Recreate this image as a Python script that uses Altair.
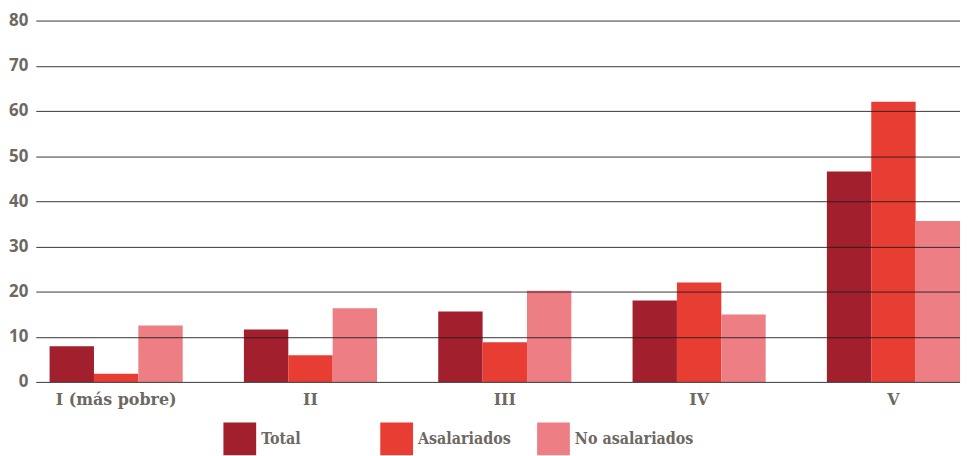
import altair as alt
import pandas as pd

categories = ["I (más pobre)", "II", "III", "IV", "V"]
series = ["Total", "Asalariados", "No asalariados"]
total = [7.9, 11.6, 15.6, 18.0, 46.6]
asalariados = [1.8, 5.9, 8.8, 22.0, 62.0]
no_asalariados = [12.5, 16.3, 20.2, 14.9, 35.6]
colors = ["#a21f2d", "#e83d33", "#ec7e84"]

rows = []
for name, vals in zip(series, [total, asalariados, no_asalariados]):
    for c, v in zip(categories, vals):
        rows.append({"quintil": c, "serie": name, "valor": v})
df = pd.DataFrame(rows)

label_color = "#6d6862"
serif_c = "DejaVu Serif Condensed, DejaVu Serif"

chart = alt.Chart(df).mark_bar().encode(
    x=alt.X("quintil:N", sort=categories,
            scale=alt.Scale(paddingInner=0.315, paddingOuter=0.0355, align=1),
            axis=alt.Axis(title=None, labelAngle=0, labelFont="DejaVu Serif", labelFontWeight="bold",
                          labelFontSize=16, labelColor=label_color, labelPadding=10,
                          ticks=False, domain=False, grid=False)),
    xOffset=alt.XOffset("serie:N", sort=series, scale=alt.Scale(paddingInner=0, paddingOuter=0)),
    y=alt.Y("valor:Q", scale=alt.Scale(domain=[0, 80]),
            axis=alt.Axis(title=None, values=[0, 10, 20, 30, 40, 50, 60, 70, 80],
                          labelFont="Open Sans", labelFontWeight="bold", labelFontSize=17,
                          labelColor=label_color, labelPadding=8, ticks=False, domain=False,
                          grid=True, gridColor="#231f20", gridOpacity=0.9, gridWidth=1,
                          zindex=1)),
    color=alt.Color("serie:N", sort=series,
                    scale=alt.Scale(domain=series, range=colors),
                    legend=alt.Legend(title=None, orient="none", direction="horizontal",
                                      legendX=189, legendY=405,
                                      symbolType="square", symbolSize=1089,
                                      symbolStrokeWidth=0, symbolOpacity=1,
                                      labelFont=serif_c, labelFontWeight="bold",
                                      labelFontSize=16, labelColor=label_color,
                                      labelOffset=5, columnPadding=0, gridAlign="all",
                                      labelLimit=300)),
).properties(
    width=931, height=364, padding={"left": 0, "top": 2, "right": 0, "bottom": 0}
).configure_view(stroke=None)

chart.save("out.html", embed_options={"renderer": "svg", "actions": False})
